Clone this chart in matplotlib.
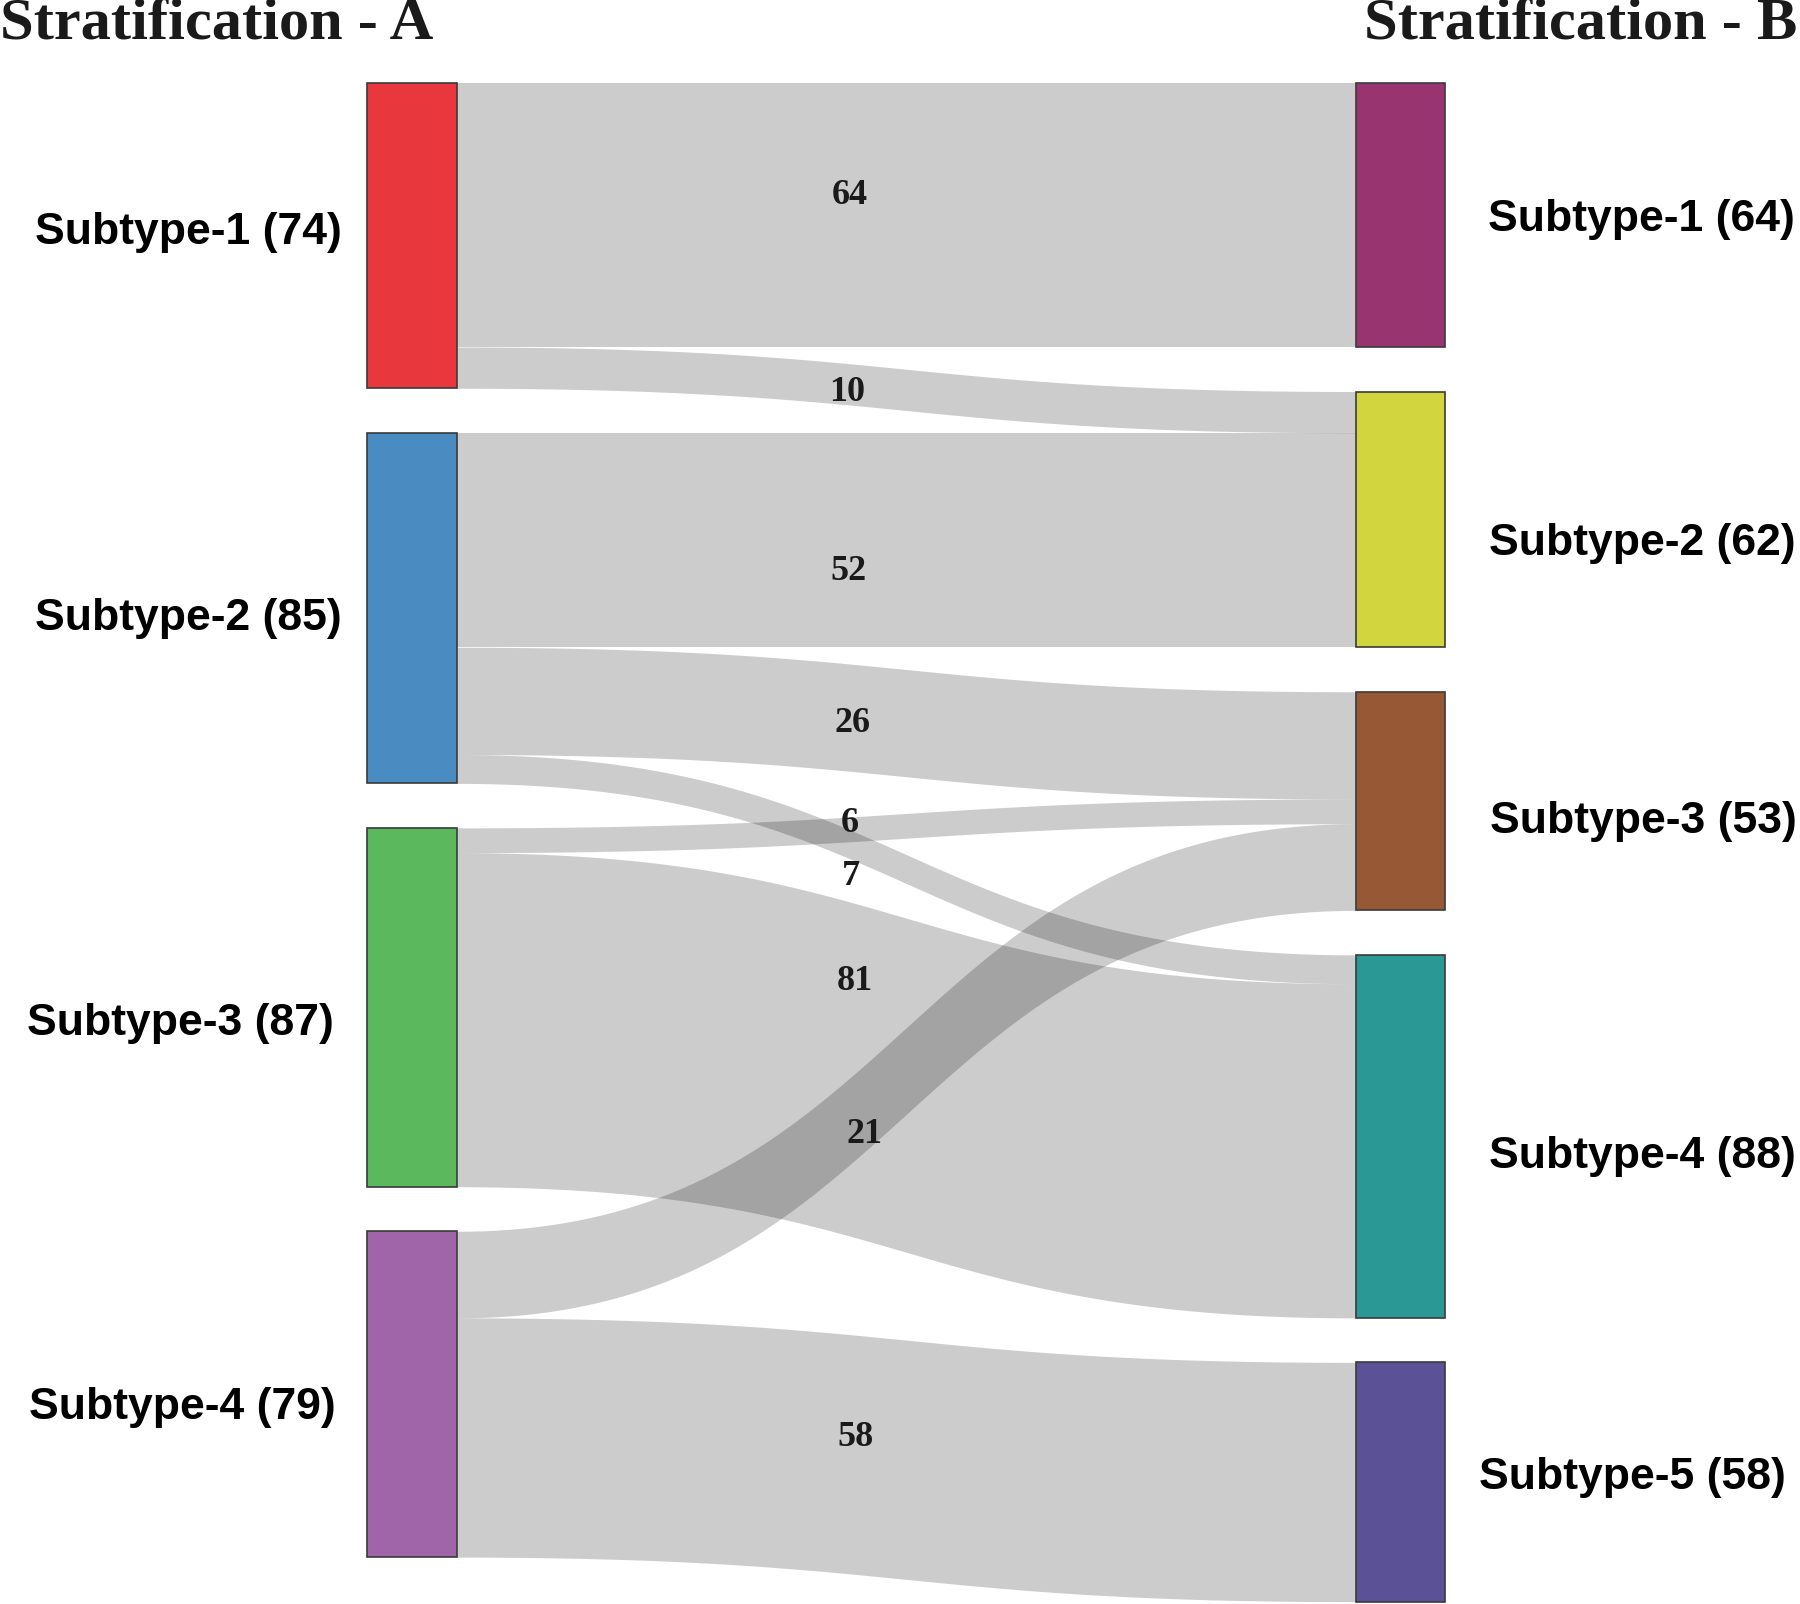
import numpy as np
import matplotlib
matplotlib.use('Agg')
import matplotlib.pyplot as plt
from matplotlib.patches import Rectangle

# nodes of the two stratifications
left_names = ['Subtype-1', 'Subtype-2', 'Subtype-3', 'Subtype-4']
right_names = ['Subtype-1', 'Subtype-2', 'Subtype-3', 'Subtype-4', 'Subtype-5']
left_colors = ['#e8373d', '#4a8bc1', '#5cb85d', '#a064a8']
right_colors = ['#983571', '#d3d53f', '#975935', '#2a9995', '#5a5196']

# flows: (source index, target index, count)
src = [0, 0, 1, 1, 1, 2, 2, 3, 3]
dst = [0, 1, 1, 2, 3, 2, 3, 2, 4]
counts = [64, 10, 52, 26, 7, 6, 81, 21, 58]

# hand nudges of the labels (px), as placed in the original
label_dy = [-19, 3, 32, 0, 7, -2, -104, 64, -22]
label_dx = [0, -3, -1, 2, 1, 0, 5, 15, 6]
left_dy = [-3, 10, 16, 13]
left_dx = [0, 0, -8, -6]
right_dy = [4, 24, 20, 20, -4]
right_dx = [0, 1, 2, 1, -9]

# layout (pixel space)
W, H = 1800, 1604
top = 83
scale = 4.125
gap = 44.5
xl0, xl1 = 367, 457
xr0, xr1 = 1356, 1445

left_tot = [sum(c for s, c in zip(src, counts) if s == i) for i in range(len(left_names))]
right_tot = [sum(c for d, c in zip(dst, counts) if d == i) for i in range(len(right_names))]


def stack(totals):
    ys = []
    y = top
    for t in totals:
        ys.append(y)
        y += t * scale + gap
    return ys


left_y = stack(left_tot)
right_y = stack(right_tot)

fig = plt.figure(figsize=(W / 100, H / 100), dpi=100)
ax = fig.add_axes([0, 0, 1, 1])
ax.set_xlim(0, W)
ax.set_ylim(H, 0)
ax.axis('off')

# links (cubic bezier ribbons)
l_off = list(left_y)
r_off = list(right_y)
t = np.linspace(0, 1, 200)
xm = (xl1 + xr0) / 2
bx = (1 - t) ** 3 * xl1 + 3 * (1 - t) ** 2 * t * xm + 3 * (1 - t) * t ** 2 * xm + t ** 3 * xr0
by = 3 * (1 - t) * t ** 2 + t ** 3
mids = []
for s, d, c in zip(src, dst, counts):
    h = c * scale
    y0 = l_off[s]
    y1 = r_off[d]
    l_off[s] += h
    r_off[d] += h
    yc = y0 + (y1 - y0) * by
    ax.fill_between(bx, yc, yc + h, color='black', alpha=0.2, linewidth=0)
    mids.append((y0 + y1) / 2 + h / 2)

# nodes
for i, name in enumerate(left_names):
    h = left_tot[i] * scale
    ax.add_patch(Rectangle((xl0, left_y[i]), xl1 - xl0, h, facecolor=left_colors[i],
                           edgecolor='#3a3a3a', linewidth=1.2))
    ax.text(342 + left_dx[i], left_y[i] + h / 2 + left_dy[i], f'{name} ({left_tot[i]})',
            ha='right', va='center', fontsize=32, fontweight='bold',
            family='Liberation Sans', color='black')

for i, name in enumerate(right_names):
    h = right_tot[i] * scale
    ax.add_patch(Rectangle((xr0, right_y[i]), xr1 - xr0, h, facecolor=right_colors[i],
                           edgecolor='#3a3a3a', linewidth=1.2))
    ax.text(1488 + right_dx[i], right_y[i] + h / 2 + right_dy[i], f'{name} ({right_tot[i]})',
            ha='left', va='center', fontsize=32, fontweight='bold',
            family='Liberation Sans', color='black')

# flow labels
for c, m, dy, dx in zip(counts, mids, label_dy, label_dx):
    ax.text(850 + dx, m + dy, str(c), ha='center', va='center', fontsize=26,
            fontweight='bold', family='Liberation Serif', color='#1a1a1a')

ax.text(0, 26, 'Stratification - A', ha='left', va='center', fontsize=43.5,
        fontweight='bold', family='Liberation Serif', color='#1a1a1a')
ax.text(1797, 26, 'Stratification - B', ha='right', va='center', fontsize=43.5,
        fontweight='bold', family='Liberation Serif', color='#1a1a1a')

fig.savefig('out.png', dpi=100)
